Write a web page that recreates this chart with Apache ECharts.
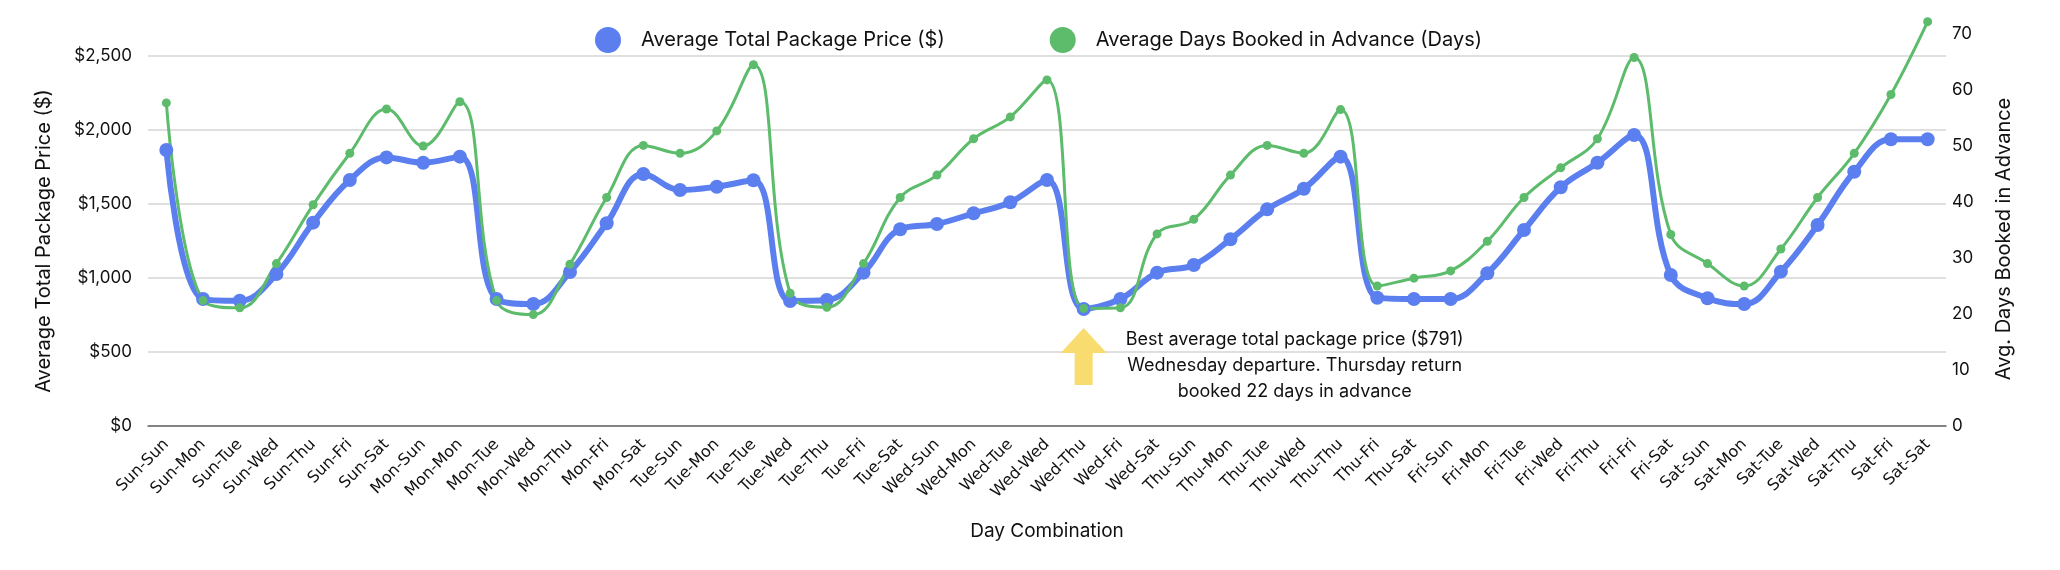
<!DOCTYPE html>
<html>
<head>
<meta charset="utf-8">
<script src="https://cdn.jsdelivr.net/npm/echarts@6/dist/echarts.min.js"></script>
<style>html,body{margin:0;padding:0;background:#fff;}#c{width:2060px;height:570px;}</style>
</head>
<body>
<div id="c"></div>
<script>
const categories = ['Sun-Sun','Sun-Mon','Sun-Tue','Sun-Wed','Sun-Thu','Sun-Fri','Sun-Sat',
  'Mon-Sun','Mon-Mon','Mon-Tue','Mon-Wed','Mon-Thu','Mon-Fri','Mon-Sat',
  'Tue-Sun','Tue-Mon','Tue-Tue','Tue-Wed','Tue-Thu','Tue-Fri','Tue-Sat',
  'Wed-Sun','Wed-Mon','Wed-Tue','Wed-Wed','Wed-Thu','Wed-Fri','Wed-Sat',
  'Thu-Sun','Thu-Mon','Thu-Tue','Thu-Wed','Thu-Thu','Thu-Fri','Thu-Sat',
  'Fri-Sun','Fri-Mon','Fri-Tue','Fri-Wed','Fri-Thu','Fri-Fri','Fri-Sat',
  'Sat-Sun','Sat-Mon','Sat-Tue','Sat-Wed','Sat-Thu','Sat-Fri','Sat-Sat'];
const priceValues = [1865, 858, 847, 1027, 1374, 1662, 1815,
  1779, 1820, 858, 824, 1041, 1370, 1703,
  1595, 1617, 1660, 845, 851, 1036, 1329,
  1365, 1437, 1512, 1662, 791, 858, 1036,
  1088, 1262, 1464, 1603, 1820, 867, 858,
  858, 1032, 1324, 1613, 1779, 1966, 1020,
  863, 824, 1043, 1358, 1718, 1937, 1937];
const daysValues = [57.7, 22.4, 21.1, 29.0, 39.5, 48.7, 56.6,
  50.0, 57.9, 22.4, 19.9, 28.9, 40.8, 50.1,
  48.7, 52.7, 64.5, 23.7, 21.2, 29.0, 40.8,
  44.8, 51.3, 55.2, 61.8, 21.0, 21.1, 34.3,
  36.9, 44.8, 50.1, 48.7, 56.5, 25.0, 26.4,
  27.7, 33.0, 40.8, 46.1, 51.3, 65.8, 34.2,
  29.0, 25.0, 31.6, 40.8, 48.7, 59.2, 72.2];
const priceTicks = [0, 500, 1000, 1500, 2000, 2500];
const daysTicks = [0, 10, 20, 30, 40, 50, 60, 70];
const seriesNames = ['Average Total Package Price ($)', 'Average Days Booked in Advance (Days)'];
const annotationText = ['Best average total package price ($791)', 'Wednesday departure. Thursday return', 'booked 22 days in advance'];
const annotationIndex = 25;

const BLUE = '#5B7FEE', GREEN = '#5DBB6C';
const geo = 'Inter';
const chart = echarts.init(document.getElementById('c'), null, {renderer: 'canvas'});
const option = {
  animation: false,
  backgroundColor: '#fff',
  legend: {
    data: seriesNames, left: 590, top: 22, itemWidth: 26, itemHeight: 26, icon: 'circle', itemGap: 105,
    textStyle: {fontFamily: geo, fontSize: 20, color: '#111', padding: [0, 0, 0, 15]}
  },
  grid: [
    {left: 148, right: 114, top: 56, bottom: 144},
    {left: 148, right: 114, top: 34, bottom: 144}
  ],
  xAxis: [
    {type: 'category', gridIndex: 0, data: categories, boundaryGap: true,
     axisLine: {lineStyle: {color: '#666', width: 1.5}}, axisTick: {show: false},
     axisLabel: {rotate: 45, interval: 0, fontFamily: 'DejaVu Sans', fontSize: 16, color: '#111', margin: 16},
     name: 'Day Combination', nameLocation: 'middle', nameGap: 96,
     nameTextStyle: {fontFamily: geo, fontSize: 19, color: '#111'}},
    {type: 'category', gridIndex: 1, data: categories, boundaryGap: true, show: false}
  ],
  yAxis: [
    {type: 'value', gridIndex: 0, min: priceTicks[0], max: priceTicks[priceTicks.length - 1], interval: priceTicks[1] - priceTicks[0],
     axisLine: {show: false}, axisTick: {show: false},
     splitLine: {lineStyle: {color: '#d4d4d4', width: 1.5}},
     axisLabel: {formatter: v => '$' + v.toLocaleString('en-US'), fontFamily: geo, fontSize: 17, color: '#111', margin: 16},
     name: 'Average Total Package Price ($)', nameLocation: 'middle', nameGap: 94, nameRotate: 90,
     nameTextStyle: {fontFamily: geo, fontSize: 20, color: '#111'}},
    {type: 'value', gridIndex: 1, position: 'right', min: daysTicks[0], max: daysTicks[daysTicks.length - 1], interval: daysTicks[1] - daysTicks[0],
     axisLine: {show: false}, axisTick: {show: false}, splitLine: {show: false},
     axisLabel: {fontFamily: geo, fontSize: 17, color: '#111', margin: 6},
     name: 'Avg. Days Booked in Advance', nameLocation: 'middle', nameGap: 48, nameRotate: 90,
     nameTextStyle: {fontFamily: geo, fontSize: 20, color: '#111', padding: [0, 18, 0, 0]}}
  ],
  series: [
    {name: seriesNames[0], type: 'line', xAxisIndex: 0, yAxisIndex: 0, data: priceValues,
     smooth: 0.4, symbol: 'circle', symbolSize: 14, clip: false,
     lineStyle: {color: BLUE, width: 6}, itemStyle: {color: BLUE},
     markPoint: {
       silent: true,
       data: [
         {coord: [annotationIndex, 470], symbol: 'path://M23,0 L46,25 L32,25 L32,57 L14,57 L14,25 L0,25 Z',
          symbolSize: [46, 57], symbolKeepAspect: false, itemStyle: {color: '#F9DC70'}, label: {show: false}},
         {coord: [annotationIndex, 405], symbol: 'circle', symbolSize: 1, itemStyle: {color: 'rgba(0,0,0,0)'},
          label: {show: true, position: 'inside', offset: [211, 0], formatter: annotationText.join('\n'),
                  fontFamily: geo, fontSize: 18, lineHeight: 26, color: '#111', align: 'center'}}
       ]
     }},
    {name: seriesNames[1], type: 'line', xAxisIndex: 1, yAxisIndex: 1, data: daysValues,
     smooth: 0.4, symbol: 'circle', symbolSize: 9, clip: false,
     lineStyle: {color: GREEN, width: 3}, itemStyle: {color: GREEN}}
  ]
};
chart.setOption(option);
</script>
</body>
</html>
